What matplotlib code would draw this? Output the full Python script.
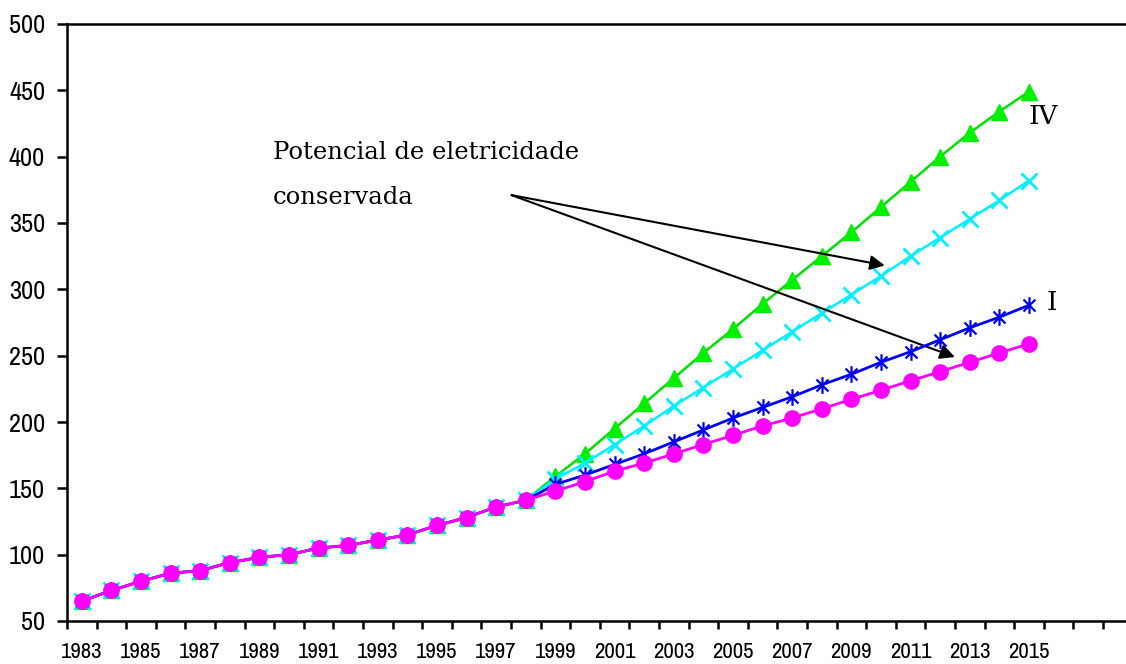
import numpy as np
import matplotlib
matplotlib.use("Agg")
import matplotlib.pyplot as plt
from matplotlib.path import Path

# dados: histórico comum 1983-1998 e cenários 1999-2015
years = list(range(1983, 2016))
hist = [65, 73, 80, 86, 88, 94, 98, 100, 105, 107, 111, 115, 122, 128, 136, 141]
cen_iv = [159, 176, 195, 214, 233, 252, 270, 289, 307, 325, 343, 362, 381, 400, 418, 434, 449]
cen_cy = [157, 169, 183, 197, 212, 226, 240, 254, 268, 282, 296, 310, 325, 339, 353, 367, 382]
cen_i = [153, 160, 168, 176, 185, 194, 203, 211, 219, 228, 236, 245, 253, 262, 271, 279, 288]
cen_pk = [148, 155, 163, 169, 176, 183, 190, 197, 203, 210, 217, 224, 231, 238, 245, 252, 259]

TICK_FONT = ["Archivo Narrow", "Liberation Sans", "DejaVu Sans"]
SERIF = ["DejaVu Serif"]

# marcador estrela estilo Excel: traço vertical + x
d = 0.72
star = Path([(0, -1), (0, 1), (-d, -d), (d, d), (-d, d), (d, -d)],
            [Path.MOVETO, Path.LINETO] * 3)

fig = plt.figure(figsize=(11.26, 6.64), dpi=100)
ax = fig.add_axes([67 / 1126, 1 - 621 / 664, 1 - 67 / 1126, (621 - 24) / 664])

ax.plot(years, hist + cen_iv, color="#00e000", lw=1.8, marker="^", ms=12,
        mfc="#00f000", mec="#00f000", zorder=2)
ax.plot(years, hist + cen_cy, color="#00f0ff", lw=1.8, marker="x", ms=11,
        mew=2, mec="#00f0ff", zorder=3)
ax.plot(years, hist + cen_i, color="#0000f0", lw=2.0, marker=star, ms=12,
        mew=1.6, mec="#0000f0", zorder=4)
ax.plot(years, hist + cen_pk, color="#ff00ff", lw=2.0, marker="o", ms=11,
        mfc="#ff00ff", mec="#ff00ff", zorder=5)

ax.set_xlim(1982.5, 2018.28)
ax.set_ylim(50, 500)
ax.set_yticks(range(50, 501, 50))

# ticks nas fronteiras das categorias, rótulos no centro
ax.set_xticks(np.arange(1982.5, 2018.5, 1), minor=True)
ax.set_xticks(years[::2])
ax.set_xticklabels([str(y) for y in years[::2]])
ax.tick_params(axis="x", which="major", length=0, pad=15)
ax.tick_params(axis="x", which="minor", length=5.5, width=1.8, direction="out")
ax.tick_params(axis="y", length=7.2, width=1.8, direction="out", pad=8.5)
for lab in ax.get_xticklabels():
    lab.set_family(TICK_FONT)
    lab.set_fontsize(16.5)
for lab in ax.get_yticklabels():
    lab.set_family(TICK_FONT)
    lab.set_fontsize(19)

for s in ["left", "top", "bottom"]:
    ax.spines[s].set_linewidth(1.8)
ax.spines["right"].set_visible(False)

ax.text(1989.46, 403, "Potencial de eletricidade", family=SERIF, fontsize=17.5,
        va="center", ha="left")
ax.text(1989.46, 369, "conservada", family=SERIF, fontsize=17.5,
        va="center", ha="left")
start = (1997.52, 371)
arrow = dict(arrowstyle="-|>", color="black", lw=1.5, mutation_scale=22,
             shrinkA=0, shrinkB=0)
ax.annotate("", xy=(2010.13, 318), xytext=start, arrowprops=arrow)
ax.annotate("", xy=(2012.5, 249), xytext=start, arrowprops=arrow)

ax.text(2015.0, 430, "IV", family=SERIF, fontsize=19, va="center", ha="left")
ax.text(2015.6, 290, "I", family=SERIF, fontsize=19, va="center", ha="left")

fig.savefig("out.png", dpi=100)
